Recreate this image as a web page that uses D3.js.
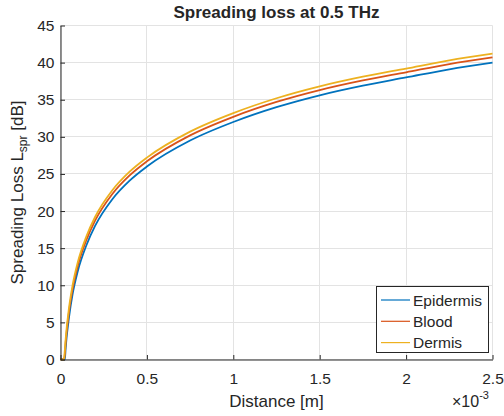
<!DOCTYPE html>
<html>
<head>
<meta charset="utf-8">
<script src="https://cdn.jsdelivr.net/npm/d3@7"></script>
<style>
    body { margin: 0; background: #fff; }
    text { font-family: "Liberation Sans", Arial, Helvetica, sans-serif; fill: #262626; }
</style>
</head>
<body>
<div id="spreadingLoss"></div>
<script>
// distance in units of 1e-3 m
var distance  = [0, 0.02, 0.025, 0.03, 0.05, 0.07, 0.1, 0.15, 0.2, 0.3, 0.4, 0.5, 0.75, 1.0, 1.25, 1.5, 1.75, 2.0, 2.25, 2.5];
var epidermis = [0, 0, 0, 1.6, 5.8, 8.8, 11.9, 15.4, 18.0, 21.6, 24.1, 26.0, 29.5, 32.0, 34.0, 35.6, 36.9, 38.0, 39.1, 40.0];
var blood     = [0, 0, 0.7, 2.3, 6.6, 9.5, 12.6, 16.1, 18.7, 22.3, 24.8, 26.7, 30.2, 32.7, 34.7, 36.3, 37.6, 38.7, 39.8, 40.7];
var dermis    = [0, 0, 1.2, 2.8, 7.1, 10.0, 13.1, 16.6, 19.2, 22.8, 25.3, 27.2, 30.7, 33.2, 35.2, 36.8, 38.1, 39.2, 40.3, 41.2];

var seriesNames = ["Epidermis", "Blood", "Dermis"];
var xTicks = [0, 0.5, 1, 1.5, 2, 2.5];
var yTicks = [0, 5, 10, 15, 20, 25, 30, 35, 40, 45];

var series = [epidermis, blood, dermis].map((vals, i) => ({
    name: seriesNames[i],
    points: distance.map((d, j) => ({x: d, y: vals[j]}))
}));

var width = 504,
    height = 416,
    margin = {top: 25.5, right: 11.5, bottom: 56.5, left: 60.5},
    innerW = width - margin.left - margin.right,
    innerH = height - margin.top - margin.bottom,
    axisColor = "#262626";

var color = d3.scaleOrdinal()
    .domain(seriesNames)
    .range(["#0072BD", "#D95319", "#EDB120"]);

var root = d3.select("#spreadingLoss")
    .append("svg")
    .attr("width", width)
    .attr("height", height);

var svg = root.append("g")
    .attr("transform", `translate(${margin.left},${margin.top})`);

var xScale = d3.scaleLinear().domain([0, 2.5]).range([0, innerW]);
var yScale = d3.scaleLinear().domain([0, 45]).range([innerH, 0]);

// grid
svg.append("g")
    .selectAll("line.vgrid")
    .data(xTicks)
    .enter().append("line")
    .attr("x1", d => Math.round(xScale(d)))
    .attr("x2", d => Math.round(xScale(d)))
    .attr("y1", 0)
    .attr("y2", innerH)
    .attr("stroke", "#e3e3e3");

svg.append("g")
    .selectAll("line.hgrid")
    .data(yTicks)
    .enter().append("line")
    .attr("x1", 0)
    .attr("x2", innerW)
    .attr("y1", d => Math.round(yScale(d)))
    .attr("y2", d => Math.round(yScale(d)))
    .attr("stroke", "#e3e3e3");

// curves
var line = d3.line()
    .x(d => xScale(d.x))
    .y(d => yScale(d.y))
    .curve(d3.curveMonotoneX);

svg.selectAll(".curve")
    .data(series)
    .enter().append("path")
    .attr("class", "curve")
    .attr("fill", "none")
    .attr("stroke", d => color(d.name))
    .attr("stroke-width", 1.8)
    .attr("d", d => line(d.points));

// axes
var xAxis = d3.axisBottom(xScale)
    .tickValues(xTicks)
    .tickFormat(d => d)
    .tickSizeInner(-4.5)
    .tickSizeOuter(0)
    .tickPadding(13);

var yAxis = d3.axisLeft(yScale)
    .tickValues(yTicks)
    .tickFormat(d => d)
    .tickSizeInner(-4.5)
    .tickSizeOuter(0)
    .tickPadding(6);

var gx = svg.append("g")
    .attr("class", "x axis")
    .attr("transform", `translate(0,${innerH})`)
    .call(xAxis);

var gy = svg.append("g")
    .attr("class", "y axis")
    .call(yAxis);

[gx, gy].forEach(g => {
    g.select(".domain").attr("stroke", axisColor);
    g.selectAll(".tick line").attr("stroke", axisColor);
    g.selectAll(".tick text")
        .style("font-family", '"Liberation Sans", Arial, sans-serif')
        .style("font-size", "15.5px")
        .attr("fill", axisColor);
});

// title
root.append("text")
    .attr("x", margin.left + innerW / 2)
    .attr("y", 17.5)
    .attr("text-anchor", "middle")
    .style("font-size", "17px")
    .style("font-weight", "bold")
    .attr("fill", "#000")
    .text("Spreading loss at 0.5 THz");

// x label
root.append("text")
    .attr("x", margin.left + innerW / 2)
    .attr("y", 407)
    .attr("text-anchor", "middle")
    .style("font-size", "17px")
    .text("Distance [m]");

// exponent
var expo = root.append("text")
    .attr("x", 452)
    .attr("y", 407)
    .style("font-size", "16px");
expo.append("tspan").text("\u00d710");
expo.append("tspan")
    .attr("dy", -8)
    .style("font-size", "11px")
    .text("-3");

// y label
var ylab = root.append("text")
    .attr("transform", `translate(23,${margin.top + innerH / 2}) rotate(-90)`)
    .attr("text-anchor", "middle")
    .style("font-size", "17px");
ylab.append("tspan").text("Spreading Loss L");
ylab.append("tspan")
    .attr("dy", 4)
    .style("font-size", "12px")
    .text("spr");
ylab.append("tspan")
    .attr("dy", -4)
    .text(" [dB]");

// legend
var legend = root.append("g")
    .attr("class", "legend");

legend.append("rect")
    .attr("x", 376.5)
    .attr("y", 286.5)
    .attr("width", 112)
    .attr("height", 66)
    .attr("fill", "#fff")
    .attr("stroke", axisColor)
    .attr("stroke-width", 1);

var item = legend.selectAll(".item")
    .data(seriesNames)
    .enter().append("g")
    .attr("class", "item")
    .attr("transform", (d, i) => `translate(381,${300 + i * 21.3})`);

item.append("line")
    .attr("x1", 0)
    .attr("x2", 29)
    .attr("stroke", d => color(d))
    .attr("stroke-width", 1.2);

item.append("text")
    .attr("x", 32)
    .attr("y", 5.8)
    .style("font-size", "15.5px")
    .attr("fill", "#000")
    .text(d => d);
</script>
</body>
</html>
